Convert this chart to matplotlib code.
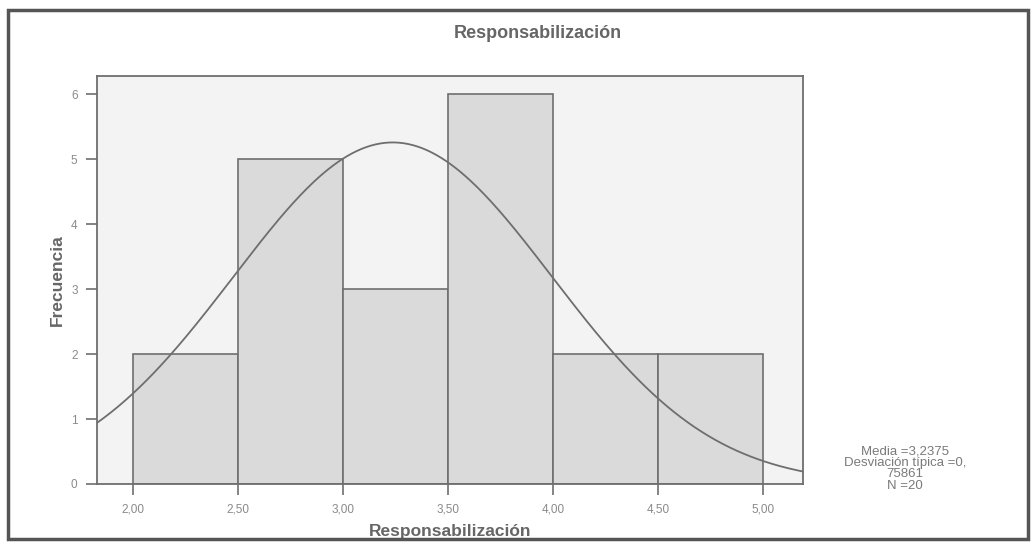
import numpy as np
import matplotlib
matplotlib.use('Agg')
import matplotlib.pyplot as plt
from matplotlib.patches import Rectangle

# datos del histograma
bin_edges = [2.0, 2.5, 3.0, 3.5, 4.0, 4.5, 5.0]
frecuencias = [2, 5, 3, 6, 2, 2]
media = 3.2375
desv = 0.75861
n = 20
x_ticks = [2.0, 2.5, 3.0, 3.5, 4.0, 4.5, 5.0]
x_labels = ['2,00', '2,50', '3,00', '3,50', '4,00', '4,50', '5,00']
y_ticks = [0, 1, 2, 3, 4, 5, 6]

plt.rcParams['font.family'] = ['Liberation Sans', 'DejaVu Sans']
gris = '#6e6e6e'
gris_txt = '#8a8a8a'

fig = plt.figure(figsize=(10.34, 5.46), dpi=100)
fig.patch.set_facecolor('white')

# marco exterior
fig.patches.append(Rectangle((0.008, 0.012), 0.986, 0.97, transform=fig.transFigure,
                             fill=False, edgecolor='#555555', linewidth=2.5))

ax = fig.add_axes([0.0938, 0.1136, 0.6828, 0.747])
ax.set_facecolor('#f3f3f3')

anchos = np.diff(bin_edges)
ax.bar(bin_edges[:-1], frecuencias, width=anchos, align='edge',
       color='#dadada', edgecolor=gris, linewidth=1.2)

# curva normal ajustada (media y desviación del gráfico)
xs = np.linspace(1.83, 5.19, 300)
binw = 0.5
ys = n * binw * np.exp(-0.5 * ((xs - media) / desv) ** 2) / (desv * np.sqrt(2 * np.pi))
ax.plot(xs, ys, color=gris, linewidth=1.3)

ax.set_xlim(1.83, 5.19)
ax.set_ylim(0, 6.28)
ax.set_xticks(x_ticks)
ax.set_xticklabels(x_labels)
ax.set_yticks(y_ticks)
ax.tick_params(axis='both', colors=gris, length=8, width=1.2, labelcolor=gris_txt, labelsize=8.5)
ax.tick_params(axis='x', pad=6)
ax.tick_params(axis='y', pad=6)
for s in ax.spines.values():
    s.set_color(gris)
    s.set_linewidth(1.3)

ax.set_xlabel('Responsabilización', fontsize=12.5, fontweight='bold', color='#666666', labelpad=6)
ax.set_ylabel('Frecuencia', fontsize=12.5, fontweight='bold', color='#666666', labelpad=4)

fig.text(0.52, 0.938, 'Responsabilización', ha='center', va='center',
         fontsize=13, fontweight='bold', color='#666666')

fig.text(0.875, 0.142, 'Media =3,2375\nDesviación típica =0,\n75861\nN =20',
         ha='center', va='center', fontsize=9.5, color='#7a7a7a', linespacing=0.95)

fig.savefig('out.png', dpi=100)
